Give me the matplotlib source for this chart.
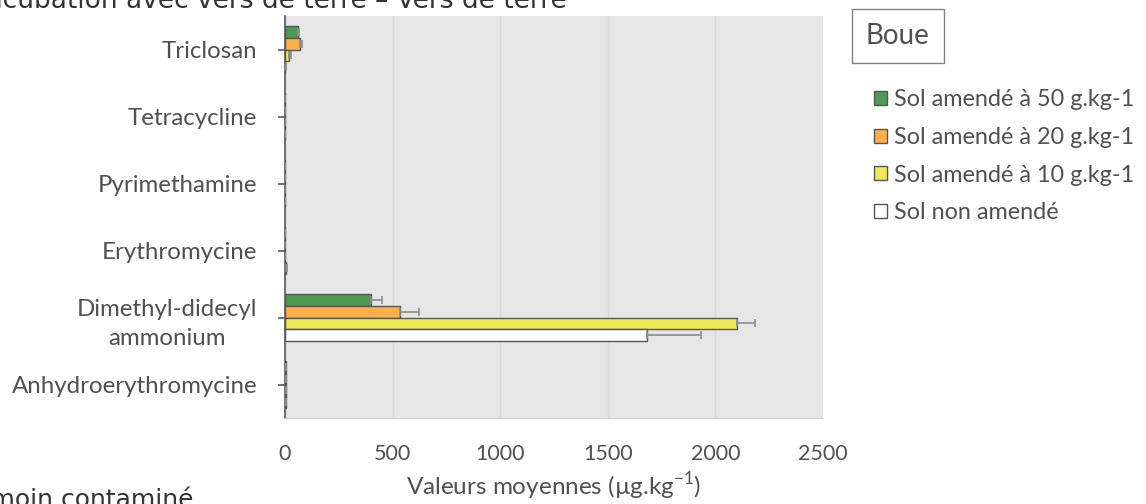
import matplotlib.pyplot as plt
from matplotlib.patches import Patch
import numpy as np

plt.rcParams['font.family'] = ['Lato', 'DejaVu Sans']

# composés, de bas en haut
composes = ['Anhydroerythromycine', 'Dimethyl-didecyl\nammonium', 'Erythromycine',
            'Pyrimethamine', 'Tetracycline', 'Triclosan']

# valeurs moyennes (µg.kg-1) et écarts
sol_50 = [4, 400, 0, 0, 0, 60]
err_50 = [2, 50, 0, 0, 0, 6]
sol_20 = [4, 535, 0, 0, 0, 70]
err_20 = [2, 88, 0, 0, 0, 8]
sol_10 = [4, 2100, 0, 0, 0, 20]
err_10 = [2, 85, 0, 0, 0, 8]
sol_non = [4, 1682, 5, 0, 0, 2]
err_non = [2, 250, 2, 0, 0, 2]

series = [
    ('Sol amendé à 50 g.kg-1', sol_50, err_50, '#4f9a53'),
    ('Sol amendé à 20 g.kg-1', sol_20, err_20, '#fdb04a'),
    ('Sol amendé à 10 g.kg-1', sol_10, err_10, '#eeea55'),
    ('Sol non amendé', sol_non, err_non, '#ffffff'),
]

txt = '#505050'

fig = plt.figure(figsize=(11.46, 5.04), dpi=100)
ax = fig.add_axes([285 / 1146, 86 / 504, 538 / 1146, 402 / 504])
ax.set_facecolor('#e6e6e6')

y = np.arange(len(composes))
h = 0.175
offsets = [1.5 * h, 0.5 * h, -0.5 * h, -1.5 * h]
for (lab, vals, errs, col), off in zip(series, offsets):
    ax.barh(y + off, vals, height=h, color=col, edgecolor='#555555', linewidth=1.0,
            xerr=[np.zeros(len(errs)), errs],
            error_kw=dict(ecolor='#8c8c8c', elinewidth=1.2, capsize=3, capthick=1.2),
            zorder=3)

ax.set_xlim(0, 2500)
ax.set_ylim(-0.5, 5.5)
ax.set_xticks(np.arange(0, 2501, 500))
ax.set_yticks(y)
ax.set_yticklabels(composes, multialignment='center', linespacing=1.5)
ax.grid(axis='x', color='#dadada', linewidth=1.0, zorder=0)
ax.set_axisbelow(True)

for s in ['top', 'right']:
    ax.spines[s].set_visible(False)
ax.spines['left'].set_color('#595959')
ax.spines['left'].set_linewidth(1.2)
ax.spines['bottom'].set_color('#d0d0d0')
ax.tick_params(axis='y', length=5, width=1.2, color='#595959', labelsize=17.3,
               labelcolor=txt, pad=15)
ax.tick_params(axis='x', length=0, labelsize=15.5, labelcolor=txt, pad=19)
ax.set_xlabel('Valeurs moyennes (µg.kg$^{\\mathregular{-1}}$)', fontsize=17.5, color=txt,
              labelpad=4)

handles = [Patch(facecolor=col, edgecolor='#555555', linewidth=1.0, label=lab)
           for lab, _, _, col in series]
fig.legend(handles=handles, loc='upper left', bbox_to_anchor=(853 / 1146, 1 - 68 / 504),
           frameon=False, fontsize=16.8, handlelength=0.55, handleheight=0.55,
           handletextpad=0.3, labelspacing=0.72, labelcolor=txt)

fig.text(866 / 1146, 1 - 36 / 504, 'Boue', fontsize=20, color=txt, va='center',
         bbox=dict(boxstyle='square,pad=0.5', facecolor='white', edgecolor='#808080',
                   linewidth=1.0))

# titres des panneaux voisins
fig.text(567 / 1146, 1 - 8 / 504, 'Incubation avec vers de terre – Vers de terre',
         fontsize=19, color='#333333', ha='right', va='baseline', family='DejaVu Sans')
fig.text(193 / 1146, 1 - 507 / 504, 'Témoin contaminé',
         fontsize=18, color='#333333', ha='right', va='baseline', family='DejaVu Sans')

fig.savefig('out.png', dpi=100)
